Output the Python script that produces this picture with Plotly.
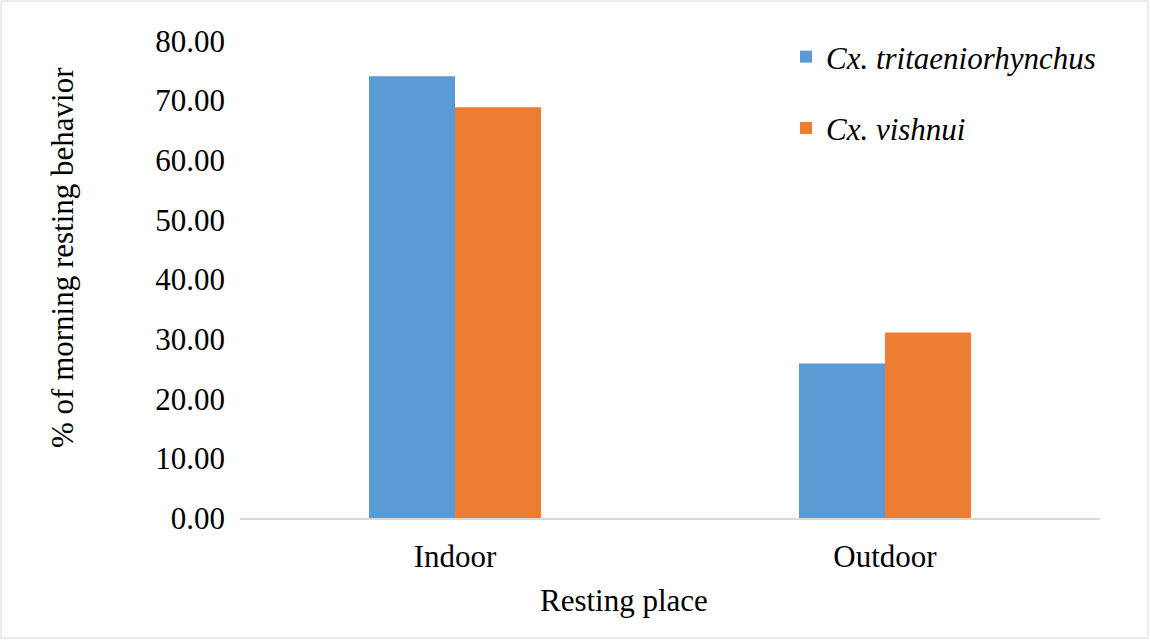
import plotly.graph_objects as go

categories = ["Indoor", "Outdoor"]
series_names = ["Cx. tritaeniorhynchus", "Cx. vishnui"]
tritaeniorhynchus = [74.1, 25.9]
vishnui = [68.9, 31.1]
y_ticks = [0, 10, 20, 30, 40, 50, 60, 70, 80]

colors = ["#5B9BD5", "#ED7D31"]
font_family = "Liberation Serif"

fig = go.Figure()
for name, vals, col, grp in zip(series_names, [tritaeniorhynchus, vishnui], colors, ["a", "b"]):
    fig.add_trace(go.Bar(
        x=categories, y=vals, name="<i>" + name + "</i>",
        marker=dict(color=col, line=dict(width=0)),
        legendgroup=grp, showlegend=True,
    ))

L, R, T, B = 240, 50, 41, 122
W, H = 1150, 640
pw, ph = W - L - R, H - T - B

fig.update_layout(
    width=W, height=H,
    margin=dict(l=L, r=R, t=T, b=B),
    paper_bgcolor="white", plot_bgcolor="white",
    barmode="group", bargap=0.6, bargroupgap=0,
    font=dict(family=font_family, size=31, color="black"),
    showlegend=True,
    legend=dict(
        x=(786 - L) / pw, xanchor="left", y=1 + (T - 30) / ph, yanchor="top",
        font=dict(family=font_family, size=31, color="black"),
        tracegroupgap=28, bgcolor="rgba(0,0,0,0)",
    ),
    xaxis=dict(
        showline=True, linecolor="#D9D9D9", linewidth=2, showgrid=False,
        ticks="", ticklabelstandoff=10,
        tickfont=dict(size=31),
    ),
    yaxis=dict(
        range=[0, 80], tickvals=y_ticks, tickformat=".2f",
        showgrid=False, zeroline=False, showline=False, ticks="",
        ticklabelstandoff=14,
        tickfont=dict(size=31),
    ),
    annotations=[
        dict(text="% of morning resting behavior", textangle=-90, showarrow=False,
             xref="paper", yref="paper", x=(62 - L) / pw, y=1 - (258 - T) / ph,
             xanchor="center", yanchor="middle", font=dict(size=31)),
        dict(text="Resting place", showarrow=False,
             xref="paper", yref="paper", x=(624 - L) / pw, y=-(600 - T - ph) / ph,
             xanchor="center", yanchor="middle", font=dict(size=31)),
    ],
    shapes=[dict(
        type="rect", xref="paper", yref="paper",
        x0=-(L - 1) / pw, x1=1 + (R - 2) / pw,
        y0=-(B - 2) / ph, y1=1 + (T - 1) / ph,
        line=dict(color="#D9D9D9", width=1), fillcolor="rgba(0,0,0,0)", layer="below",
    )],
)

js = ("document.body.style.margin='0';"
      "document.querySelectorAll('.legendtext').forEach(function(e){"
      "e.style.fontFamily='\"Liberation Serif\", \"Times New Roman\", serif';});")
fig.write_html("out.html", config={"displayModeBar": False}, post_script=js)
